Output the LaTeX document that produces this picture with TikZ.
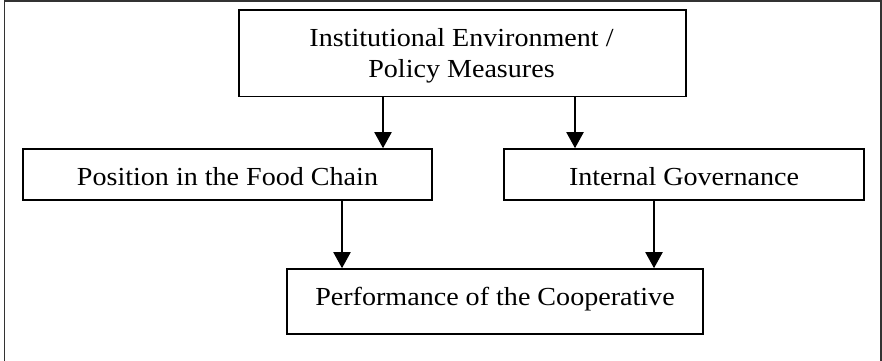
\documentclass[tikz,border=0pt]{standalone}
\usepackage{fontspec}
\setmainfont{Liberation Serif}[FakeStretch=1.08]
\usetikzlibrary{arrows.meta}
\tikzset{
  box/.style={draw=black, line width=1.6pt, minimum width=#1, inner sep=0pt, rectangle},
  lbl/.style={anchor=base, inner sep=0pt, font=\fontsize{26}{30.5}\selectfont, align=center},
  arr/.style={line width=2pt, -{Triangle[length=16pt,width=17pt]}, shorten >=0pt},
  frame/.style={draw=black!80, line width=1.5pt}
}
\begin{document}
\begin{tikzpicture}[x=1pt,y=-1pt]
\useasboundingbox (0,0) rectangle (882,360);
\draw[frame] (4.5,370) -- (4.5,0.75) -- (881,0.75) -- (881,370);
% boxes
\node[box=447pt, minimum height=86.5pt] (top) at (462.5,53.25) {};
\node[box=409pt, minimum height=51pt] (left) at (227.5,174.5) {};
\node[box=360pt, minimum height=51pt] (right) at (684,174.5) {};
\node[box=416pt, minimum height=65pt] (bot) at (495,301.5) {};
% labels
\node[lbl] (ttop) at (461.5,77) {Institutional Environment /\\Policy Measures};
\node[lbl] (tleft) at (227.5,185) {Position in the Food Chain};
\node[lbl] (tright) at (684,185) {Internal Governance};
\node[lbl] (tbot) at (495,305.7) {Performance of the Cooperative};
% arrow columns
\coordinate (c1) at (383,0);
\coordinate (c2) at (575,0);
\coordinate (c3) at (342,0);
\coordinate (c4) at (654,0);
\draw[arr] (top.south -| c1) -- (left.north -| c1);
\draw[arr] (top.south -| c2) -- (right.north -| c2);
\draw[arr] (left.south -| c3) -- (bot.north -| c3);
\draw[arr] (right.south -| c4) -- (bot.north -| c4);
\end{tikzpicture}
\end{document}
